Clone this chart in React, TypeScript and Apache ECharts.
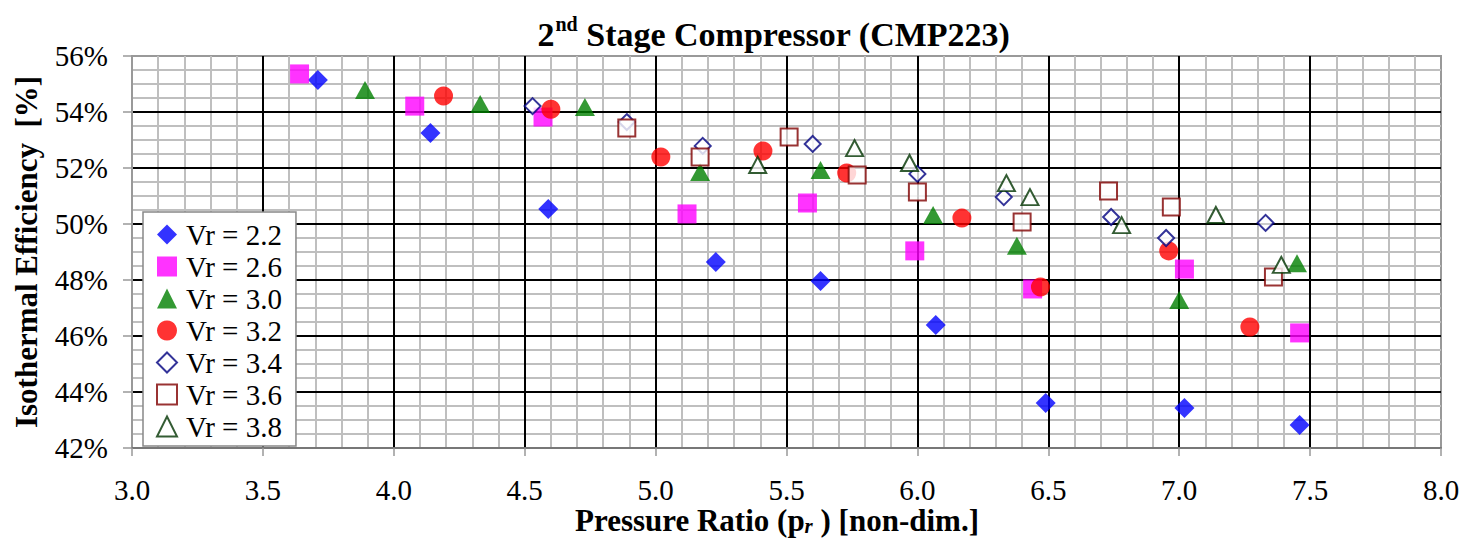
import React, { useEffect, useRef } from "react";
import * as echarts from "echarts";

const FONT = "'Liberation Serif', 'Times New Roman', serif";

const seriesNames = ["Vr = 2.2", "Vr = 2.6", "Vr = 3.0", "Vr = 3.2", "Vr = 3.4", "Vr = 3.6", "Vr = 3.8"];

const vr22X = [3.71, 4.14, 4.59, 5.23, 5.63, 6.07, 6.49, 7.02, 7.46];
const vr22Y = [55.14, 53.25, 50.54, 48.64, 47.96, 46.39, 43.61, 43.43, 42.82];

const vr26X = [3.64, 4.08, 4.57, 5.12, 5.58, 5.99, 6.44, 7.02, 7.46];
const vr26Y = [55.36, 54.21, 53.82, 50.36, 50.75, 49.04, 47.68, 48.39, 46.11];

const vr30X = [3.89, 4.33, 4.73, 5.17, 5.63, 6.06, 6.38, 7.0, 7.45];
const vr30Y = [54.79, 54.29, 54.18, 51.86, 51.93, 50.32, 49.22, 47.29, 48.6];

const vr32X = [4.19, 4.6, 5.02, 5.41, 5.73, 6.17, 6.47, 6.96, 7.27];
const vr32Y = [54.57, 54.1, 52.39, 52.61, 51.82, 50.21, 47.75, 49.04, 46.32];

const vr34X = [4.53, 4.89, 5.18, 5.6, 6.0, 6.33, 6.74, 6.95, 7.33];
const vr34Y = [54.21, 53.64, 52.79, 52.86, 51.79, 50.96, 50.25, 49.5, 50.04];

const vr36X = [4.89, 5.17, 5.51, 5.77, 6.0, 6.4, 6.73, 6.97, 7.36];
const vr36Y = [53.43, 52.39, 53.11, 51.75, 51.14, 50.07, 51.18, 50.61, 48.11];

const vr38X = [5.39, 5.76, 5.97, 6.34, 6.43, 6.78, 7.14, 7.39];
const vr38Y = [52.11, 52.71, 52.18, 51.46, 50.96, 49.96, 50.32, 48.54];

const xMin = 3.0;
const xMax = 8.0;
const xStep = 0.5;
const yMin = 42;
const yMax = 56;
const yStep = 2;

const titleMain = " Stage Compressor (CMP223)";
const titleNum = "2";
const titleSup = "nd";
const xTitleA = "Pressure Ratio (p";
const xTitleSub = "r";
const xTitleB = " ) [non-dim.]";
const yTitle = "Isothermal Efficiency  [%]";

function pairs(xs: number[], ys: number[]) {
  return xs.map((x, i) => [x, ys[i]]);
}

function textWidth(text: string, font: string): number {
  const ctx = document.createElement("canvas").getContext("2d");
  if (!ctx) return text.length * 12;
  ctx.font = font;
  return ctx.measureText(text).width;
}

export default function App() {
  const ref = useRef<HTMLDivElement>(null);

  useEffect(() => {
    if (!ref.current) return;
    const chart = echarts.init(ref.current, undefined, { renderer: "svg" });

    const tSize = 34;
    const supSize = 20;
    const w1 = textWidth(titleNum, `bold ${tSize}px ${FONT}`);
    const w2 = textWidth(titleSup, `bold ${supSize}px ${FONT}`);
    const w3 = textWidth(titleMain, `bold ${tSize}px ${FONT}`);
    const tx0 = 774 - (w1 + w2 + w3 + 1) / 2;

    const xs = 31;
    const subSize = 21;
    const a1 = textWidth(xTitleA, `bold ${xs}px ${FONT}`);
    const a2 = textWidth(xTitleSub, `italic bold ${subSize}px ${FONT}`);
    const a3 = textWidth(xTitleB, `bold ${xs}px ${FONT}`);
    const ax0 = 777 - (a1 + a2 + a3) / 2;
    const xTitleY = 520;

    const txt = (text: string, x: number, y: number, size: number, extra: any = {}) => ({
      type: "text",
      x,
      y,
      silent: true,
      style: {
        text,
        fill: "#000",
        fontFamily: FONT,
        fontWeight: "bold",
        fontSize: size,
        align: "left",
        verticalAlign: "middle",
        ...extra,
      },
    });

    const filled = (color: string) => ({ color });
    const open = (color: string) => ({ color: "#ffffff", borderColor: color, borderWidth: 2 });

    const mkSeries = (name: string, data: number[][], symbol: string, size: any, itemStyle: any) => ({
      name,
      type: "scatter",
      data,
      symbol,
      symbolSize: size,
      itemStyle,
      emphasis: { disabled: true },
      z: 3,
    });

    const tickRich = { t: { fontFamily: FONT, fontSize: 29, color: "#000000", lineHeight: 29 } };

    chart.setOption({
      animation: false,
      backgroundColor: "#ffffff",
      textStyle: { fontFamily: FONT },
      grid: {
        left: 132,
        right: 25,
        top: 56,
        bottom: 91,
        show: true,
        backgroundColor: "#ffffff",
        borderColor: "#999999",
        borderWidth: 2,
      },
      xAxis: [
        {
          type: "value",
          min: xMin,
          max: xMax,
          interval: xStep,
          position: "bottom",
          z: 1,
          axisLine: { show: true, onZero: false, lineStyle: { color: "#777777", width: 2 } },
          axisTick: { show: true, length: 8, lineStyle: { color: "#999999", width: 1.5 } },
          axisLabel: {
            fontFamily: FONT,
            fontSize: 29,
            color: "#000000",
            margin: 27,
            formatter: (v: number) => `{t|${v.toFixed(1)}}`,
            rich: tickRich,
          },
          splitLine: { show: true, showMinLine: false, showMaxLine: false, lineStyle: { color: "#000000", width: 2 } },
          minorTick: { show: false },
          minorSplitLine: { show: false },
        },
        {
          type: "value",
          min: xMin,
          max: xMax,
          interval: xStep,
          position: "top",
          z: 0,
          axisLine: { show: false },
          axisTick: { show: false },
          axisLabel: { show: false },
          splitLine: { show: false },
          minorTick: { show: false, splitNumber: 5 },
          minorSplitLine: { show: true, lineStyle: { color: "#bfbfbf", width: 2 } },
        },
      ],
      yAxis: [
        {
          type: "value",
          min: yMin,
          max: yMax,
          interval: yStep,
          position: "left",
          z: 1,
          axisLine: { show: true, onZero: false, lineStyle: { color: "#999999", width: 2 } },
          axisTick: { show: true, length: 9, lineStyle: { color: "#999999", width: 1.5 } },
          axisLabel: {
            fontFamily: FONT,
            fontSize: 29,
            color: "#000000",
            margin: 24,
            formatter: (v: number) => `{t|${v}%}`,
            rich: tickRich,
          },
          splitLine: { show: true, showMinLine: false, showMaxLine: false, lineStyle: { color: "#000000", width: 2 } },
          minorTick: { show: false },
          minorSplitLine: { show: false },
        },
        {
          type: "value",
          min: yMin,
          max: yMax,
          interval: yStep,
          position: "right",
          z: 0,
          axisLine: { show: false },
          axisTick: { show: false },
          axisLabel: { show: false },
          splitLine: { show: false },
          minorTick: { show: false, splitNumber: 4 },
          minorSplitLine: { show: true, lineStyle: { color: "#bfbfbf", width: 2 } },
        },
      ],
      legend: {
        orient: "vertical",
        left: 143,
        top: 212,
        itemWidth: 20,
        itemHeight: 20,
        itemGap: 3,
        padding: [8, 14, 5, 13],
        backgroundColor: "#ffffff",
        borderColor: "#888888",
        borderWidth: 1.5,
        selectedMode: false,
        data: seriesNames,
        textStyle: { fontFamily: FONT, fontSize: 29, color: "#000", lineHeight: 27, padding: [0, 0, 0, 4] },
        z: 10,
      },
      graphic: [
        txt(titleNum, tx0, 34, tSize),
        txt(titleSup, tx0 + w1 + 1, 24, supSize),
        txt(titleMain, tx0 + w1 + w2 + 1, 34, tSize),
        txt(xTitleA, ax0, xTitleY, xs),
        txt(xTitleSub, ax0 + a1, xTitleY + 6, subSize, { fontStyle: "italic" }),
        txt(xTitleB, ax0 + a1 + a2, xTitleY, xs),
        {
          type: "text",
          x: 26,
          y: 252,
          rotation: Math.PI / 2,
          silent: true,
          style: {
            text: yTitle,
            fill: "#000",
            fontFamily: FONT,
            fontWeight: "bold",
            fontSize: 31,
            align: "center",
            verticalAlign: "middle",
          },
        },
      ],
      series: [
        mkSeries(seriesNames[0], pairs(vr22X, vr22Y), "diamond", 20, filled("#0000ff")),
        mkSeries(seriesNames[1], pairs(vr26X, vr26Y), "rect", 19, filled("#ff00ff")),
        mkSeries(seriesNames[2], pairs(vr30X, vr30Y), "triangle", [20, 18], filled("#008000")),
        mkSeries(seriesNames[3], pairs(vr32X, vr32Y), "circle", 19, filled("#ff0000")),
        mkSeries(seriesNames[4], pairs(vr34X, vr34Y), "diamond", 16, open("#000080")),
        mkSeries(seriesNames[5], pairs(vr36X, vr36Y), "rect", 17, open("#800000")),
        mkSeries(seriesNames[6], pairs(vr38X, vr38Y), "triangle", [17, 16], open("#003300")),
      ],
    });

    return () => chart.dispose();
  }, []);

  return (
    <div
      ref={ref}
      style={{ position: "fixed", left: 0, top: 0, width: 1466, height: 539, background: "#fff" }}
    />
  );
}
